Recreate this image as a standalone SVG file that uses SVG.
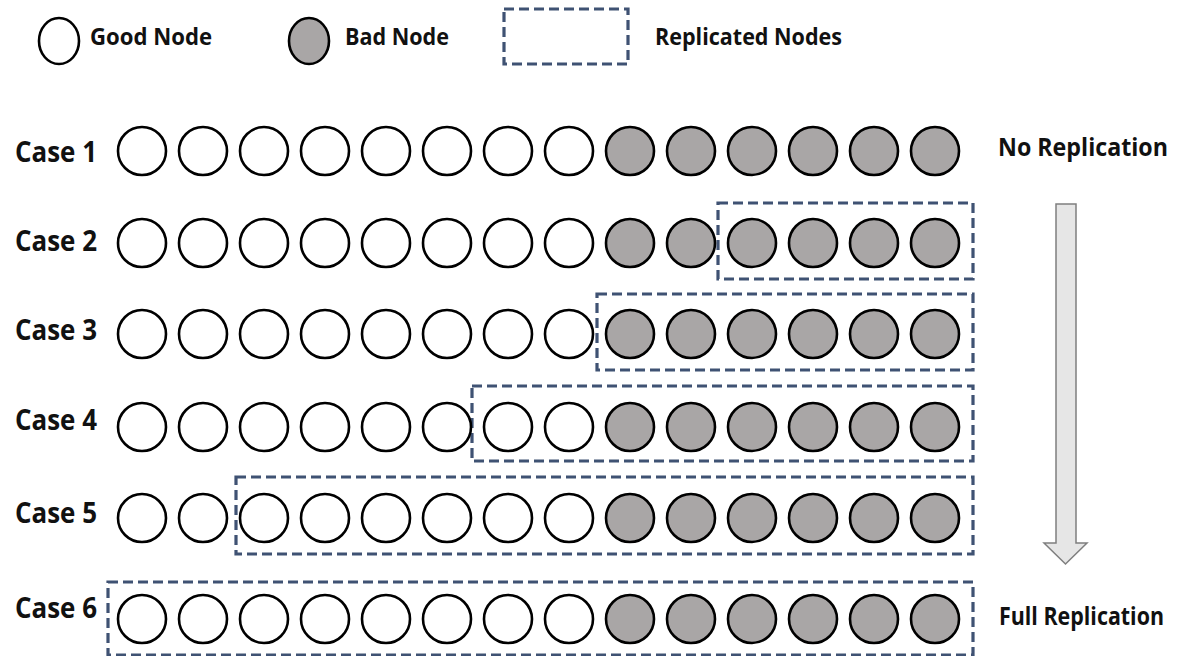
<svg xmlns="http://www.w3.org/2000/svg" width="1179" height="656" viewBox="0 0 1179 656">
  <style>
    .lbl { font-family: "Open Sans", "Liberation Sans", sans-serif; font-weight: bold; fill: #111; }
    .case { font-size: 29px; }
    .side { font-size: 25px; }
    .leg { font-size: 24px; }
    .good { fill: #ffffff; stroke: #000; stroke-width: 2.6; }
    .bad { fill: #a9a6a6; stroke: #000; stroke-width: 2.6; }
    .rep { fill: none; stroke: #3f5273; stroke-width: 3.2; stroke-dasharray: 10 5; }
  </style>
  <defs>
    <circle id="g" r="24" class="good"/>
    <circle id="b" r="24" class="bad"/>
  </defs>
  <rect width="1179" height="656" fill="#ffffff"/>

  <!-- legend -->
  <g id="legend-good">
    <ellipse cx="59" cy="41" rx="20" ry="23" class="good"/>
    <text x="90" y="45" class="lbl leg" textLength="122" lengthAdjust="spacingAndGlyphs">Good Node</text>
  </g>
  <g id="legend-bad">
    <ellipse cx="309" cy="41" rx="20" ry="23" class="bad"/>
    <text x="345" y="45" class="lbl leg" textLength="104" lengthAdjust="spacingAndGlyphs">Bad Node</text>
  </g>
  <g id="legend-rep">
    <rect x="504" y="9" width="124" height="55" class="rep"/>
    <text x="655" y="45" class="lbl leg" textLength="187" lengthAdjust="spacingAndGlyphs">Replicated Nodes</text>
  </g>

  <!-- replication groups -->
  <g id="replication-boxes">
    <rect x="718" y="203" width="255" height="76" class="rep"/>
    <rect x="597" y="294" width="376" height="76" class="rep"/>
    <rect x="472" y="386" width="501" height="75" class="rep"/>
    <rect x="236" y="477" width="737" height="77" class="rep"/>
    <rect x="108" y="582" width="865" height="73" class="rep"/>
  </g>

  <!-- case 1 -->
  <g id="case1">
    <text x="15" y="162" class="lbl case" textLength="82" lengthAdjust="spacingAndGlyphs">Case 1</text>
    <g transform="translate(0,151)">
      <use href="#g" x="142"/><use href="#g" x="203"/><use href="#g" x="264"/><use href="#g" x="325"/>
      <use href="#g" x="386"/><use href="#g" x="447"/><use href="#g" x="508"/><use href="#g" x="569"/>
      <use href="#b" x="630"/><use href="#b" x="691"/><use href="#b" x="752"/><use href="#b" x="813"/>
      <use href="#b" x="874"/><use href="#b" x="935"/>
    </g>
  </g>
  <!-- case 2 -->
  <g id="case2">
    <text x="15" y="251" class="lbl case" textLength="82" lengthAdjust="spacingAndGlyphs">Case 2</text>
    <g transform="translate(0,243)">
      <use href="#g" x="142"/><use href="#g" x="203"/><use href="#g" x="264"/><use href="#g" x="325"/>
      <use href="#g" x="386"/><use href="#g" x="447"/><use href="#g" x="508"/><use href="#g" x="569"/>
      <use href="#b" x="630"/><use href="#b" x="691"/><use href="#b" x="752"/><use href="#b" x="813"/>
      <use href="#b" x="874"/><use href="#b" x="935"/>
    </g>
  </g>
  <!-- case 3 -->
  <g id="case3">
    <text x="15" y="340" class="lbl case" textLength="82" lengthAdjust="spacingAndGlyphs">Case 3</text>
    <g transform="translate(0,334)">
      <use href="#g" x="142"/><use href="#g" x="203"/><use href="#g" x="264"/><use href="#g" x="325"/>
      <use href="#g" x="386"/><use href="#g" x="447"/><use href="#g" x="508"/><use href="#g" x="569"/>
      <use href="#b" x="630"/><use href="#b" x="691"/><use href="#b" x="752"/><use href="#b" x="813"/>
      <use href="#b" x="874"/><use href="#b" x="935"/>
    </g>
  </g>
  <!-- case 4 -->
  <g id="case4">
    <text x="15" y="430" class="lbl case" textLength="82" lengthAdjust="spacingAndGlyphs">Case 4</text>
    <g transform="translate(0,427)">
      <use href="#g" x="142"/><use href="#g" x="203"/><use href="#g" x="264"/><use href="#g" x="325"/>
      <use href="#g" x="386"/><use href="#g" x="447"/><use href="#g" x="508"/><use href="#g" x="569"/>
      <use href="#b" x="630"/><use href="#b" x="691"/><use href="#b" x="752"/><use href="#b" x="813"/>
      <use href="#b" x="874"/><use href="#b" x="935"/>
    </g>
  </g>
  <!-- case 5 -->
  <g id="case5">
    <text x="15" y="523" class="lbl case" textLength="82" lengthAdjust="spacingAndGlyphs">Case 5</text>
    <g transform="translate(0,518)">
      <use href="#g" x="142"/><use href="#g" x="203"/><use href="#g" x="264"/><use href="#g" x="325"/>
      <use href="#g" x="386"/><use href="#g" x="447"/><use href="#g" x="508"/><use href="#g" x="569"/>
      <use href="#b" x="630"/><use href="#b" x="691"/><use href="#b" x="752"/><use href="#b" x="813"/>
      <use href="#b" x="874"/><use href="#b" x="935"/>
    </g>
  </g>
  <!-- case 6 -->
  <g id="case6">
    <text x="15" y="618" class="lbl case" textLength="82" lengthAdjust="spacingAndGlyphs">Case 6</text>
    <g transform="translate(0,619)">
      <use href="#g" x="142"/><use href="#g" x="203"/><use href="#g" x="264"/><use href="#g" x="325"/>
      <use href="#g" x="386"/><use href="#g" x="447"/><use href="#g" x="508"/><use href="#g" x="569"/>
      <use href="#b" x="630"/><use href="#b" x="691"/><use href="#b" x="752"/><use href="#b" x="813"/>
      <use href="#b" x="874"/><use href="#b" x="935"/>
    </g>
  </g>

  <!-- progression arrow and its end labels -->
  <g id="connectors">
    <path d="M1056,204 H1076 V543 H1087 L1065.5,564 L1044,543 H1056 Z" fill="#e6e6e6" stroke="#7f7f7f" stroke-width="1.5"/>
  </g>
  <g id="label-no-rep">
    <text x="998" y="156" class="lbl side" textLength="170" lengthAdjust="spacingAndGlyphs">No Replication</text>
  </g>
  <g id="label-full-rep">
    <text x="999" y="625" class="lbl side" textLength="165" lengthAdjust="spacingAndGlyphs">Full Replication</text>
  </g>
</svg>
